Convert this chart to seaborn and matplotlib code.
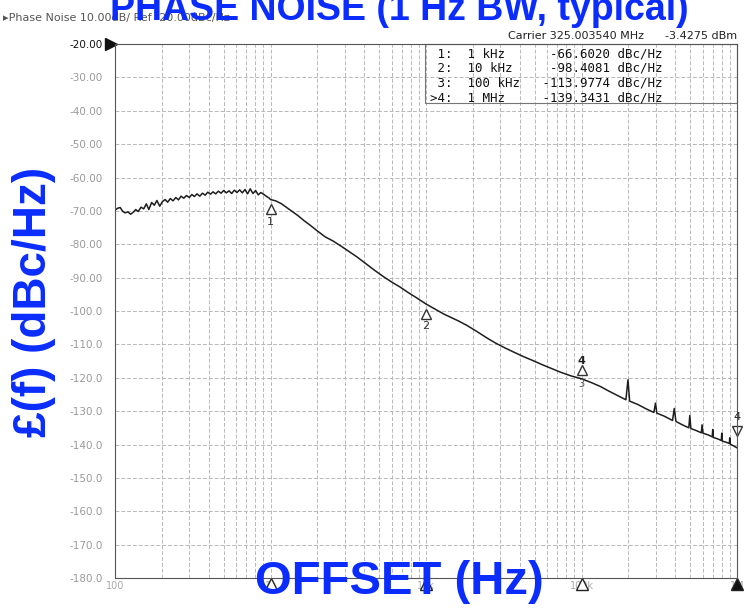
import numpy as np
import pandas as pd
import seaborn as sns
import matplotlib.pyplot as plt
from matplotlib.patches import Rectangle
from matplotlib.ticker import LogLocator, NullFormatter
from matplotlib.transforms import offset_copy

# trace (offset in Hz, level in dBc/Hz)
freq_hz = [100, 104, 108, 112, 116, 121, 126, 131, 136, 141, 147, 153, 159, 165, 172,
           179, 186, 194, 202, 210, 218, 227, 236, 246, 256, 266, 277, 288, 300, 312,
           324, 337, 351, 365, 380, 395, 411, 427, 444, 462, 481, 500, 520, 541, 563,
           585, 609, 633, 659, 685, 712, 741, 771, 802, 834, 867, 902, 938, 976, 1000,
           1080, 1170, 1270, 1380, 1500, 1650, 1800, 2000, 2250, 2520, 2850, 3200, 3600,
           4150, 4700, 5400, 6100, 6800, 7700, 8800, 10000, 11500, 13000, 14300, 16200,
           18300, 21000, 24500, 28000, 32000, 37000, 43000, 49000, 56000, 64000, 73000,
           85000, 100000, 115000, 132000, 150000, 170000, 193000, 199000, 204000, 230000,
           260000, 292000, 299000, 305000, 340000, 385000, 395000, 405000, 445000, 490000,
           497000, 505000, 545000, 590000, 596000, 604000, 650000, 693000, 698000, 705000,
           750000, 793000, 798000, 805000, 850000, 893000, 898000, 905000, 950000, 1000000]
level_dbc = [-69.8, -69.2, -69.0, -70.1, -70.6, -70.3, -71.0, -70.4, -69.6, -70.2, -68.9, -69.4,
             -67.9, -69.6, -67.5, -68.3, -66.9, -68.6, -67.2, -66.6, -67.4, -66.3, -67.0, -66.0,
             -66.7, -65.6, -66.2, -65.4, -66.0, -65.1, -65.7, -64.9, -65.6, -64.7, -65.3, -64.4,
             -65.0, -64.3, -64.9, -64.1, -64.7, -63.9, -64.6, -64.0, -64.8, -63.8, -64.5, -63.7,
             -64.6, -63.6, -64.9, -63.4, -64.8, -63.9, -65.2, -64.5, -65.0, -65.6, -66.1, -66.6,
             -67.0, -67.8, -69.0, -70.2, -71.4, -73.0, -74.3, -76.0, -77.8, -79.0, -80.6, -82.2,
             -83.8, -86.0, -87.9, -89.9, -91.5, -92.8, -94.5, -96.2, -97.9, -99.5, -100.9, -101.8,
             -103.0, -104.3, -106.0, -108.0, -109.6, -111.0, -112.4, -113.8, -114.9, -116.1,
             -117.2, -118.3, -119.4, -120.3, -121.4, -122.6, -124.0, -125.3, -126.6, -120.6,
             -127.0, -128.0, -129.3, -130.4, -127.6, -130.6, -131.5, -132.8, -129.2, -133.1,
             -134.1, -135.0, -131.3, -135.2, -135.8, -136.5, -134.1, -136.6, -137.1, -137.7,
             -135.5, -137.9, -138.3, -138.8, -136.6, -139.0, -139.3, -139.7, -138.0, -139.9,
             -140.4, -141.0]

# marker table
marker_ids = [' 1', ' 2', ' 3', '>4']
marker_freq_labels = ['1 kHz', '10 kHz', '100 kHz', '1 MHz']
marker_values = [-66.6020, -98.4081, -113.9774, -139.3431]
marker_freq = [1e3, 1e4, 1e5, 1e6]
marker_trace = [-66.6, -97.9, -120.3, -141.0]

ytick_values = list(range(-20, -190, -10))
ytick_labels = ['-20.00', '-30.00', '-40.00', '-50.00', '-60.00', '-70.00', '-80.00', '-90.00',
                '-100.0', '-110.0', '-120.0', '-130.0', '-140.0', '-150.0', '-160.0', '-170.0',
                '-180.0']
xtick_values = [1e2, 1e3, 1e4, 1e5, 1e6]
xtick_labels = ['100', '1k', '10k', '100k', '1M']

df = pd.DataFrame({'freq': freq_hz, 'level': level_dbc})

sns.set_theme(style='white')
plt.rcParams['font.family'] = ['DejaVu Sans']
BLUE = '#0a2cff'

fig = plt.figure(figsize=(7.52, 6.13), dpi=100)
ax = fig.add_axes([115 / 752, 35 / 613, 622 / 752, 534 / 613])

sns.lineplot(data=df, x='freq', y='level', ax=ax, color='#1e1e1e', lw=1.1,
             estimator=None, sort=False)
ax.set_xscale('log')
ax.set_xlim(100, 1e6)
ax.set_ylim(-180, -20)
ax.set_xlabel('')
ax.set_ylabel('')

ax.set_yticks(ytick_values)
ax.set_yticklabels(ytick_labels)
ax.set_xticks(xtick_values)
ax.set_xticklabels(xtick_labels)
ax.xaxis.set_minor_locator(LogLocator(base=10, subs=np.arange(2, 10)))
ax.xaxis.set_minor_formatter(NullFormatter())
ax.tick_params(axis='y', length=0, pad=9, labelsize=7.5, labelcolor='#9a9a9a')
ax.tick_params(axis='x', which='both', length=0, pad=2, labelsize=7, labelcolor='#a8a8a8')
ax.get_yticklabels()[0].set_color('#111111')

ax.grid(which='both', axis='x', color='#b8b8b8', ls=(0, (4, 2)), lw=0.7)
ax.grid(which='major', axis='y', color='#b8b8b8', ls=(0, (4, 2)), lw=0.7)
for s in ax.spines.values():
    s.set_color('#555555')
    s.set_linewidth(0.8)

# reference level arrow
ax.plot([-0.006], [-20], marker='>', ms=8, color='#111111', clip_on=False,
        transform=ax.get_yaxis_transform())

# marker glyphs on trace
below = offset_copy(ax.transData, fig=fig, x=0, y=-7, units='points')
above = offset_copy(ax.transData, fig=fig, x=0, y=6, units='points')
for i, (f, lv) in enumerate(zip(marker_freq, marker_trace)):
    num = marker_ids[i].strip('> ')
    if i < 2:
        ax.plot([f], [lv], marker='^', ms=7, mfc='white', mec='#333333', mew=1.0,
                transform=below, clip_on=False)
        ax.text(f, lv, num, transform=offset_copy(ax.transData, fig=fig, y=-16, units='points'),
                ha='center', va='center', fontsize=8, color='#333333')
    elif i == 2:
        ax.plot([f], [lv], marker='^', ms=7, mfc='white', mec='#333333', mew=1.0,
                transform=above, clip_on=False)
        ax.text(f, lv, '4', transform=offset_copy(ax.transData, fig=fig, y=13, units='points'),
                ha='center', va='center', fontsize=8, color='#222222', fontweight='bold')
        ax.text(f, lv, num, transform=offset_copy(ax.transData, fig=fig, y=-4, units='points'),
                ha='center', va='center', fontsize=7, color='#555555')
    else:
        ax.plot([f], [lv], marker='v', ms=7, mfc='white', mec='#333333', mew=1.0,
                transform=offset_copy(ax.transData, fig=fig, y=12, units='points'), clip_on=False)
        ax.text(f, lv, num, transform=offset_copy(ax.transData, fig=fig, y=22, units='points'),
                ha='center', va='center', fontsize=8, color='#222222')

# marker triangles under the frequency axis
for i, f in enumerate(marker_freq):
    filled = i == len(marker_freq) - 1
    ax.plot([f], [0], marker='^', ms=9, mfc='#111111' if filled else 'white',
            mec='#222222', mew=1.0, clip_on=False,
            transform=offset_copy(ax.get_xaxis_transform(), fig=fig, y=-4, units='points'))

# marker readout table
ax.add_patch(Rectangle((0.4985, 0.8895), 0.5015, 0.1105, transform=ax.transAxes,
                       fill=False, ec='#777777', lw=0.8, clip_on=False))
for i in range(len(marker_ids)):
    line = f"{marker_ids[i]}:  {marker_freq_labels[i]:<9}{marker_values[i]:>10.4f} dBc/Hz"
    ax.text(0.507, 0.982 - i * 0.0275, line, transform=ax.transAxes, ha='left', va='center',
            family='DejaVu Sans Mono', fontsize=9, color='#111111')

fig.text(3 / 752, 1 - 18 / 613, '\u25b8Phase Noise 10.00dB/ Ref -20.00dBc/Hz',
         ha='left', va='center', fontsize=8, color='#555555')
fig.text(737 / 752, 1 - 36 / 613, 'Carrier 325.003540 MHz      -3.4275 dBm',
         ha='right', va='center', fontsize=8, color='#222222')

# blue overlay labels
fig.text(399 / 752, 1 - 20 / 613, 'PHASE NOISE (1 Hz BW, typical)', ha='center',
         va='baseline', fontsize=27, fontweight='bold', color=BLUE, family='Liberation Sans')
fig.text(399 / 752, 1 - 582 / 613, 'OFFSET (Hz)', ha='center', va='center',
         fontsize=34, fontweight='bold', color=BLUE, family='Liberation Sans')
fig.text(34 / 752, 1 - 302 / 613, '\u00a3(f) (dBc/Hz)', ha='center', va='center',
         rotation=90, fontsize=33, fontweight='bold', color=BLUE, family='Liberation Sans')

fig.savefig('out.png', dpi=100)
